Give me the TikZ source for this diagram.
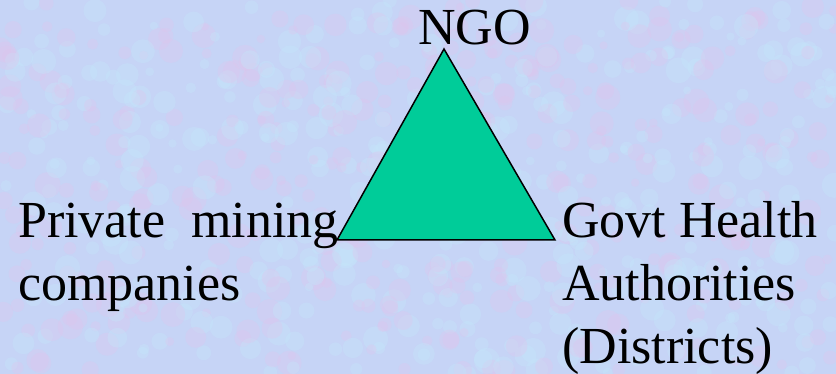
\documentclass[tikz,border=0pt]{standalone}
\usepackage{fontspec}
\setmainfont{Liberation Serif}
\definecolor{bgblue}{RGB}{198,212,246}
\definecolor{bgpink}{RGB}{222,198,238}
\definecolor{bgcyan}{RGB}{196,230,250}
\definecolor{tealgreen}{RGB}{0,204,153}
\tikzset{label text/.style={font=\fontsize{52}{63}\selectfont,inner sep=0pt,align=left}}
\begin{document}
\begin{tikzpicture}[x=1pt,y=-1pt]
\useasboundingbox (0,0) rectangle (836,374);
\fill[bgblue] (0,0) rectangle (836,374);
% mottled backdrop
\begin{scope}
\clip (0,0) rectangle (836,374);
\pgfmathsetseed{7}
\foreach \i in {1,...,400} {
  \pgfmathsetmacro{\bx}{rnd*836}
  \pgfmathsetmacro{\by}{rnd*374}
  \pgfmathsetmacro{\br}{4+rnd*9}
  \fill[bgpink,opacity=0.35] (\bx,\by) circle[radius=\br];
  \pgfmathsetmacro{\cx}{rnd*836}
  \pgfmathsetmacro{\cy}{rnd*374}
  \fill[bgcyan,opacity=0.35] (\cx,\cy) circle[radius=\br];
}
\end{scope}
\coordinate (top) at (444,49);
\coordinate (left) at (337,240);
\coordinate (right) at (555,240);
\draw[fill=tealgreen,line width=1.5pt,line join=miter] (top) -- (left) -- (right) -- cycle;
\node[label text,anchor=base west] (ngo) at (418,45) {NGO};
\node[label text,anchor=base west] (mine) at (18,301) {Private\hspace{26pt}mining\\companies};
\node[label text,anchor=base west] (govt) at (562,363) {Govt Health\\Authorities\\(Districts)};
\end{tikzpicture}
\end{document}
